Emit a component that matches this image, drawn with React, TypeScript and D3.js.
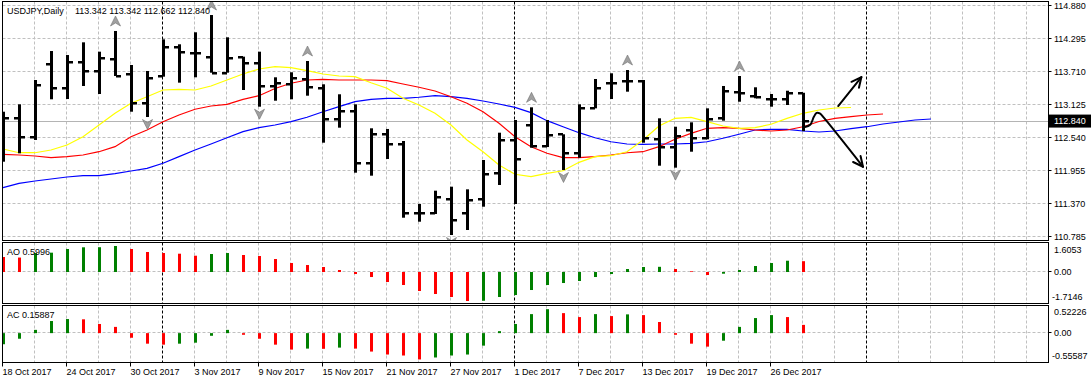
import React from "react";
import * as d3 from "d3";

// ---------- data ----------
const dates = [
  "2017-10-18","2017-10-19","2017-10-20","2017-10-23","2017-10-24","2017-10-25","2017-10-26","2017-10-27","2017-10-30","2017-10-31",
  "2017-11-01","2017-11-02","2017-11-03","2017-11-06","2017-11-07","2017-11-08","2017-11-09","2017-11-10","2017-11-13","2017-11-14",
  "2017-11-15","2017-11-16","2017-11-17","2017-11-20","2017-11-21","2017-11-22","2017-11-23","2017-11-24","2017-11-27","2017-11-28",
  "2017-11-29","2017-11-30","2017-12-01","2017-12-04","2017-12-05","2017-12-06","2017-12-07","2017-12-08","2017-12-11","2017-12-12",
  "2017-12-13","2017-12-14","2017-12-15","2017-12-18","2017-12-19","2017-12-20","2017-12-21","2017-12-22","2017-12-26","2017-12-27",
  "2017-12-28",
];
const opens = [
  112.95, 112.90, 112.552, 113.846, 113.432, 113.882, 113.733, 113.940, 113.675, 113.166,
  113.639, 114.159, 114.041, 113.982, 113.698, 113.97, 113.875, 113.462, 113.492, 113.586,
  113.432, 112.871, 113.024, 112.102, 112.606, 112.434, 111.216, 111.216, 111.464, 111.205,
  111.459, 111.914, 112.505, 112.77, 112.40, 112.606, 112.28, 113.077, 113.521, 113.55,
  113.55, 112.517, 112.386, 112.682, 112.535, 112.889, 113.361, 113.285, 113.226, 113.226,
  113.342,
];
const highs = [
  113.006, 113.137, 113.568, 114.082, 114.011, 114.236, 114.070, 114.437, 113.834, 113.728,
  114.289, 114.201, 114.414, 114.72, 114.325, 113.982, 114.07, 113.616, 113.705, 113.905,
  113.492, 113.315, 113.137, 112.712, 112.70, 112.487, 111.37, 111.606, 111.677, 111.63,
  112.15, 112.634, 112.859, 113.084, 112.859, 112.606, 113.137, 113.586, 113.687, 113.745,
  113.568, 112.889, 112.74, 112.818, 113.066, 113.462, 113.639, 113.439, 113.32, 113.378,
  113.342,
];
const lows = [
  112.12, 112.269, 112.505, 113.226, 113.231, 113.462, 113.32, 113.639, 113.006, 112.912,
  113.627, 113.521, 113.616, 113.698, 113.698, 113.391, 113.095, 113.201, 113.226, 113.29,
  112.457, 112.723, 111.925, 111.872, 112.168, 111.127, 111.056, 111.193, 110.82, 110.909,
  111.322, 111.707, 111.37, 112.368, 112.38, 111.973, 112.19, 113.066, 113.231, 113.361,
  112.457, 112.049, 112.014, 112.297, 112.517, 112.847, 113.183, 113.244, 113.095, 113.125,
  112.662,
];
const closes = [
  112.90, 112.552, 113.48, 113.432, 113.893, 113.733, 113.964, 113.639, 113.166, 113.609,
  114.159, 114.070, 114.041, 113.698, 113.953, 113.875, 113.462, 113.51, 113.598, 113.45,
  112.871, 113.024, 112.102, 112.606, 112.434, 111.216, 111.216, 111.499, 111.086, 111.441,
  111.897, 112.505, 112.168, 112.398, 112.593, 112.28, 113.066, 113.421, 113.521, 113.55,
  112.535, 112.386, 112.575, 112.535, 112.871, 113.373, 113.343, 113.262, 113.226, 113.332,
  112.840,
];
// Alligator lines (values per bar index, shifted lines run past the last bar)
const lipsYellow = [
  112.345, 112.279, 112.279, 112.327, 112.416, 112.563, 112.770, 112.978, 113.155, 113.272,
  113.391, 113.403, 113.391, 113.462, 113.568, 113.675, 113.763, 113.804, 113.786, 113.733,
  113.675, 113.639, 113.627, 113.520, 113.421, 113.244, 113.125, 112.978, 112.770, 112.505,
  112.297, 112.061, 111.897, 111.854, 111.914, 111.960, 112.109, 112.209, 112.226, 112.297,
  112.505, 112.753, 112.889, 112.907, 112.829, 112.753, 112.712, 112.723, 112.783, 112.889,
  112.978, 113.036, 113.072, 113.081,
];
const teethRed = [
  112.251, 112.239, 112.221, 112.191, 112.209, 112.239, 112.297, 112.386, 112.563, 112.682,
  112.829, 112.948, 113.049, 113.107, 113.137, 113.226, 113.290, 113.418, 113.510, 113.568,
  113.581, 113.568, 113.568, 113.568, 113.556, 113.497, 113.439, 113.373, 113.272, 113.155,
  113.006, 112.801, 112.563, 112.386, 112.269, 112.191, 112.191, 112.209, 112.239, 112.279,
  112.297, 112.386, 112.517, 112.623, 112.712, 112.723, 112.712, 112.682, 112.664, 112.682,
  112.740, 112.833, 112.889, 112.918, 112.948, 112.965,
];
const jawBlue = [
  111.659, 111.737, 111.778, 111.813, 111.849, 111.872, 111.872, 111.907, 111.955, 112.003,
  112.092, 112.209, 112.327, 112.434, 112.545, 112.652, 112.723, 112.770, 112.829, 112.907,
  113.006, 113.095, 113.184, 113.226, 113.244, 113.244, 113.262, 113.290, 113.272, 113.244,
  113.196, 113.143, 113.084, 112.989, 112.847, 112.740, 112.634, 112.545, 112.474, 112.434,
  112.428, 112.434, 112.434, 112.446, 112.474, 112.535, 112.606, 112.682, 112.694, 112.694,
  112.664, 112.646, 112.664, 112.705, 112.740, 112.788, 112.824, 112.859, 112.877,
];
const fractalUpBars = [7, 13, 19, 33, 39, 46];
const fractalDownBars = [9, 16, 28, 35, 42];

const aoValues = [
  0.83, 0.80, 1.051, 1.07, 1.273, 1.367, 1.372, 1.439, 1.273, 1.107,
  1.051, 1.013, 0.902, 0.996, 1.051, 0.941, 0.885, 0.719, 0.498, 0.387,
  0.277, 0.111, -0.111, -0.277, -0.553, -0.719, -1.051, -1.217, -1.383, -1.605,
  -1.59, -1.383, -1.273, -0.996, -0.719, -0.609, -0.498, -0.277, -0.111, 0.166,
  0.277, 0.288, 0.166, 0.039, -0.166, -0.094, 0.111, 0.332, 0.498, 0.625,
  0.5996,
];
const aoBeforeFirst = 0.95;
const acValues = [
  -0.214, -0.108, 0.063, 0.233, 0.271, 0.266, 0.176, 0.120, -0.089, -0.203,
  -0.222, -0.203, -0.184, -0.051, 0.063, -0.032, -0.108, -0.222, -0.317, -0.298,
  -0.302, -0.279, -0.298, -0.355, -0.412, -0.431, -0.507, -0.469, -0.431, -0.412,
  -0.241, 0.038, 0.176, 0.366, 0.461, 0.385, 0.309, 0.366, 0.328, 0.361,
  0.347, 0.214, -0.032, -0.203, -0.260, -0.146, 0.120, 0.290, 0.347, 0.309,
  0.15887,
];
const acBeforeFirst = -0.3;

const priceTicks = [114.880, 114.295, 113.710, 113.125, 112.540, 111.955, 111.370, 110.785];
const aoAxis = [1.6053, 0, -1.7146];
const acAxis = [0.52226, 0, -0.55587];
const separatorBars = [10, 32, 54];
const dateLabelBars = [0, 4, 8, 12, 16, 20, 24, 28, 32, 36, 40, 44, 48];

// hand-drawn annotation arrows: [bar index, price]
const arrowUp = [[52.2, 113.107], [53.65, 113.62]];
const arrowDown = [
  [50.12, 112.735], [50.45, 112.775], [50.68, 112.915], [50.85, 112.985],
  [51.05, 112.975], [51.3, 112.9], [53.75, 112.03],
];

// ---------- layout ----------
const W = 1091, H = 383;
const PL = 2.5, PR = 1048.5;
const MAIN_T = 1.5, MAIN_B = 240.5;
const AO_T = 242.5, AO_B = 303.5;
const AC_T = 305.5, AC_B = 362.5;
const FONT = "'Liberation Sans', Arial, sans-serif";
const FS = 9;
const GRID = "#c0c0c0";

export default function App() {
  const last = closes.length - 1;
  const x = d3.scaleLinear().domain([0, last]).range([3, 803]);
  const y = d3.scaleLinear().domain([priceTicks[priceTicks.length - 1], priceTicks[0]]).range([237, 6]);
  const yAO = d3.scaleLinear().domain([aoAxis[2], aoAxis[0]]).range([303, 243]);
  const yAC = d3.scaleLinear().domain([acAxis[2], acAxis[0]]).range([362, 306]);
  const parse = d3.timeParse("%Y-%m-%d");
  const fmt = d3.timeFormat("%-d %b %Y");

  const gridBars = d3.range(2, 80, 2).filter((i) => x(i) < PR - 2 && !separatorBars.includes(i));
  const crisp = (v: number) => Math.round(v) + 0.5;

  const maLine = (vals: number[]) =>
    d3.line<number>().x((_, i) => x(i)).y((v) => y(v))(vals) || "";

  const arrowHead = (pts: number[][]) => {
    const a = pts[pts.length - 1], b = pts[pts.length - 2];
    const tx = x(a[0]), ty = y(a[1]);
    const ang = Math.atan2(ty - y(b[1]), tx - x(b[0]));
    const L = 11, s = 0.45;
    const p1 = [tx - L * Math.cos(ang - s), ty - L * Math.sin(ang - s)];
    const p2 = [tx - L * Math.cos(ang + s), ty - L * Math.sin(ang + s)];
    return `M${p1[0]},${p1[1]}L${tx},${ty}L${p2[0]},${p2[1]}`;
  };
  const arrowPath = (pts: number[][], curved: boolean) =>
    (d3.line<number[]>().x((p) => x(p[0])).y((p) => y(p[1]))
      .curve(curved ? d3.curveCatmullRom.alpha(0.5) : d3.curveLinear)(pts) || "");

  const colorFor = (vals: number[], before: number, i: number) =>
    vals[i] > (i === 0 ? before : vals[i - 1]) ? "#008000" : "#ff0000";

  const fractalUpPath = "M0,-5L5,5L0,2L-5,5Z";
  const fractalDownPath = "M0,5L5,-5L0,-2L-5,-5Z";

  const lastClose = closes[last];
  const title = `${opens[last].toFixed(3)} ${highs[last].toFixed(3)} ${lows[last].toFixed(3)} ${lastClose.toFixed(3)}`;

  const vGrid = (top: number, bottom: number) => (
    <g>
      {gridBars.map((i) => (
        <line key={i} x1={crisp(x(i)) - 1} x2={crisp(x(i)) - 1} y1={top} y2={bottom}
          stroke={GRID} strokeDasharray="3,2" />
      ))}
      {separatorBars.map((i) => (
        <line key={"s" + i} x1={crisp(x(i)) - 1} x2={crisp(x(i)) - 1} y1={top} y2={bottom}
          stroke="#000" strokeDasharray="3,2" />
      ))}
    </g>
  );

  return (
    <svg width={W} height={H} style={{ position: "absolute", left: 0, top: 0, background: "#fff" }}
      fontFamily={FONT} fontSize={FS}>
      <defs>
        <clipPath id="mainClip"><rect x={PL} y={MAIN_T} width={PR - PL} height={MAIN_B - MAIN_T} /></clipPath>
      </defs>
      <rect x={0} y={0} width={W} height={H} fill="#fff" />

      {/* ---------- main panel ---------- */}
      <g clipPath="url(#mainClip)">
        {priceTicks.map((p) => (
          <line key={p} x1={PL} x2={PR} y1={crisp(y(p)) - 1} y2={crisp(y(p)) - 1} stroke={GRID} strokeDasharray="3,2" />
        ))}
        {vGrid(MAIN_T, MAIN_B)}
        <line x1={PL} x2={PR} y1={crisp(y(lastClose))} y2={crisp(y(lastClose))} stroke="#b4b4b4" />

        <path d={maLine(jawBlue)} fill="none" stroke="#0000ff" strokeWidth={1.2} />
        <path d={maLine(teethRed)} fill="none" stroke="#ff0000" strokeWidth={1.2} />
        <path d={maLine(lipsYellow)} fill="none" stroke="#ffff00" strokeWidth={1.2} />

        {closes.map((c, i) => {
          const cx = Math.round(x(i));
          const yo = Math.round(y(opens[i]));
          const yc = Math.round(y(c));
          return (
            <g key={i} fill="#000">
              <rect x={cx - 1} y={y(highs[i])} width={3} height={y(lows[i]) - y(highs[i])} />
              <rect x={cx - 5} y={yo - 1} width={5} height={2.5} />
              <rect x={cx + 1} y={yc - 1} width={5} height={2.5} />
            </g>
          );
        })}

        {fractalUpBars.map((i) => (
          <path key={"fu" + i} d={fractalUpPath} transform={`translate(${x(i) + 0.5},${y(highs[i]) - 10})`}
            fill="#a0a0a0" stroke="#707070" strokeWidth={0.6} />
        ))}
        {fractalDownBars.map((i) => (
          <path key={"fd" + i} d={fractalDownPath} transform={`translate(${x(i) + 0.5},${y(lows[i]) + 7.5})`}
            fill="#a0a0a0" stroke="#707070" strokeWidth={0.6} />
        ))}

        <g fill="none" stroke="#000" strokeWidth={2} strokeLinecap="round" strokeLinejoin="round">
          <path d={arrowPath(arrowUp, false)} />
          <path d={arrowHead(arrowUp)} />
          <path d={arrowPath(arrowDown, true)} />
          <path d={arrowHead(arrowDown)} />
        </g>
      </g>
      <rect x={PL} y={MAIN_T} width={PR - PL} height={MAIN_B - MAIN_T} fill="none" stroke="#000" />
      <text x={7} y={10.5} dy="0.35em">USDJPY,Daily</text>
      <text x={75} y={10.5} dy="0.35em">{title}</text>

      {priceTicks.map((p) => (
        <g key={"pt" + p}>
          <line x1={PR} x2={PR + 3} y1={crisp(y(p)) - 1} y2={crisp(y(p)) - 1} stroke="#000" />
          <text x={1054} y={y(p)} dy="0.35em">{p.toFixed(3)}</text>
        </g>
      ))}
      <rect x={PR + 0.5} y={y(lastClose) - 6.5} width={W - PR} height={13} fill="#000" />
      <text x={1054} y={y(lastClose)} dy="0.35em" fill="#fff">{lastClose.toFixed(3)}</text>

      {/* ---------- AO panel ---------- */}
      {vGrid(AO_T, AO_B)}
      <line x1={PL} x2={PR} y1={crisp(yAO(0)) - 1} y2={crisp(yAO(0)) - 1} stroke={GRID} strokeDasharray="3,2" />
      {aoValues.map((v, i) => {
        const cx = Math.round(x(i));
        const y0 = yAO(0), y1 = yAO(v);
        return <rect key={"ao" + i} x={cx - 1} y={Math.min(y0, y1)} width={3} height={Math.abs(y1 - y0)}
          fill={colorFor(aoValues, aoBeforeFirst, i)} />;
      })}
      <rect x={PL} y={AO_T} width={PR - PL} height={AO_B - AO_T} fill="none" stroke="#000" />
      <text x={7} y={252} dy="0.35em">{`AO ${aoValues[last].toFixed(4)}`}</text>
      <text x={1054} y={AO_T + 7.5} dy="0.35em">{aoAxis[0].toFixed(4)}</text>
      <text x={1054} y={yAO(0)} dy="0.35em">{aoAxis[1].toFixed(2)}</text>
      <text x={1052} y={AO_B - 6.5} dy="0.35em">{aoAxis[2].toFixed(4)}</text>
      <line x1={PR} x2={PR + 3} y1={crisp(yAO(0)) - 1} y2={crisp(yAO(0)) - 1} stroke="#000" />

      {/* ---------- AC panel ---------- */}
      {vGrid(AC_T, AC_B)}
      <line x1={PL} x2={PR} y1={crisp(yAC(0)) - 1} y2={crisp(yAC(0)) - 1} stroke={GRID} strokeDasharray="3,2" />
      {acValues.map((v, i) => {
        const cx = Math.round(x(i));
        const y0 = yAC(0), y1 = yAC(v);
        return <rect key={"ac" + i} x={cx - 1} y={Math.min(y0, y1)} width={3} height={Math.abs(y1 - y0)}
          fill={colorFor(acValues, acBeforeFirst, i)} />;
      })}
      <rect x={PL} y={AC_T} width={PR - PL} height={AC_B - AC_T} fill="none" stroke="#000" />
      <text x={7} y={314.5} dy="0.35em">{`AC ${acValues[last].toFixed(5)}`}</text>
      <text x={1054} y={AC_T + 6.5} dy="0.35em">{acAxis[0].toFixed(5)}</text>
      <text x={1054} y={yAC(0)} dy="0.35em">{acAxis[1].toFixed(2)}</text>
      <text x={1052} y={AC_B - 7} dy="0.35em">{acAxis[2].toFixed(5)}</text>
      <line x1={PR} x2={PR + 3} y1={crisp(yAC(0)) - 1} y2={crisp(yAC(0)) - 1} stroke="#000" />

      {/* ---------- date axis ---------- */}
      {dateLabelBars.map((i) => (
        <g key={"d" + i}>
          <line x1={crisp(x(i)) - 1} x2={crisp(x(i)) - 1} y1={AC_B} y2={AC_B + 4} stroke="#000" />
          <text x={x(i) - 0.5} y={371.5} dy="0.35em">{fmt(parse(dates[i]) as Date)}</text>
        </g>
      ))}
    </svg>
  );
}
